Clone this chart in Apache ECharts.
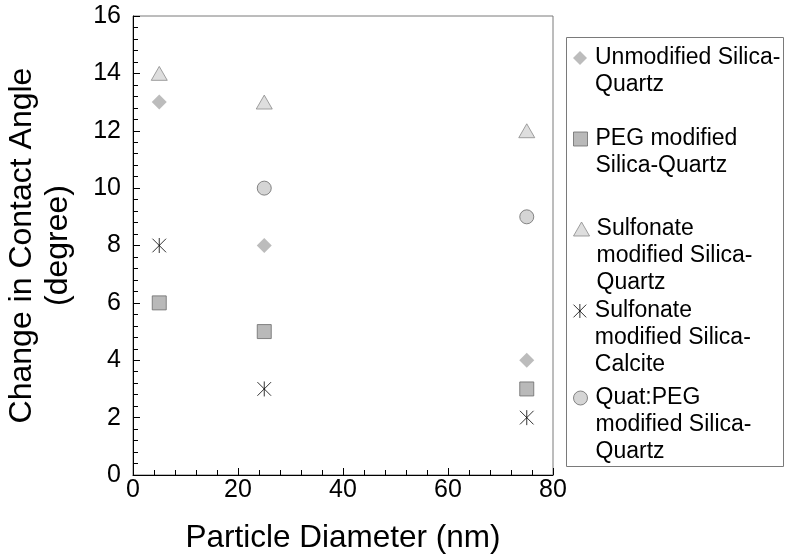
<!DOCTYPE html>
<html><head><meta charset="utf-8">
<script src="https://cdn.jsdelivr.net/npm/echarts@6/dist/echarts.min.js"></script>
<style>html,body{margin:0;padding:0;background:#fff}#c{width:787px;height:554px}</style>
</head><body><div id="c"></div>
<script>
const xTicks = [0, 20, 40, 60, 80];
const yTicks = [0, 2, 4, 6, 8, 10, 12, 14, 16];
const seriesNames = [
  'Unmodified Silica-\nQuartz',
  'PEG modified\nSilica-Quartz',
  'Sulfonate\nmodified Silica-\nQuartz',
  'Sulfonate\nmodified Silica-\nCalcite',
  'Quat:PEG\nmodified Silica-\nQuartz'
];
const unmodifiedQuartz = [[5, 13], [25, 8], [75, 4]];
const pegQuartz = [[5, 6], [25, 5], [75, 3]];
const sulfonateQuartz = [[5, 14], [25, 13], [75, 12]];
const sulfonateCalcite = [[5, 8], [25, 3], [75, 2]];
const quatPegQuartz = [[25, 10], [75, 9]];

const FONT = 'Liberation Sans, Arial, Helvetica, sans-serif';
const sym = {
  diamond: 'path://M5,0 L10,5 L5,10 L0,5 Z',
  square: 'path://M0,0 L10,0 L10,10 L0,10 Z',
  triangle: 'path://M5,0 L10,8.7 L0,8.7 Z',
  star: 'path://M0,0 L10,10 M10,0 L0,10 M5,-0.5 L5,10.5',
  circle: 'path://M0,5 A5,5 0 1,0 10,5 A5,5 0 1,0 0,5 Z'
};
const styles = [
  {symbol: sym.diamond, size: 15, itemStyle: {color: '#ababab', borderColor: '#ababab', borderWidth: 0}},
  {symbol: sym.square, size: 14, itemStyle: {color: '#a8a8a8', borderColor: '#6c6c6c', borderWidth: 1}},
  {symbol: sym.triangle, size: 16, itemStyle: {color: '#d6d6d6', borderColor: '#8a8a8a', borderWidth: 1}},
  {symbol: sym.star, size: 15, itemStyle: {color: '#000', borderColor: '#000', borderWidth: 1}},
  {symbol: sym.circle, size: 14, itemStyle: {color: '#cacaca', borderColor: '#6a6a6a', borderWidth: 1}}
];
const dataSets = [unmodifiedQuartz, pegQuartz, sulfonateQuartz, sulfonateCalcite, quatPegQuartz];
const legendCenters = [58, 139, 229, 311, 398];
const LH = 27;

const series = dataSets.map((d, i) => ({
  type: 'scatter', name: seriesNames[i], data: d,
  symbol: styles[i].symbol, symbolSize: styles[i].size, symbolKeepAspect: true,
  itemStyle: styles[i].itemStyle, emphasis: {disabled: true}
}));

const legends = seriesNames.map((n, i) => {
  const lines = n.split('\n').length;
  return {
    data: [n], orient: 'vertical', left: 573, top: legendCenters[i] - (LH / 2) * (2 * lines - 1),
    padding: 0, itemWidth: 20, itemHeight: 14, selectedMode: false,
    formatter: (name) => '\n'.repeat(lines - 1) + name,
    itemStyle: {borderWidth: styles[i].itemStyle.borderWidth},
    textStyle: {fontFamily: FONT, fontSize: 23, color: '#000', lineHeight: LH}
  };
});

const chart = echarts.init(document.getElementById('c'), null, {renderer: 'canvas'});
chart.setOption({
  animation: false,
  backgroundColor: '#fff',
  grid: {left: 133, right: 234, top: 16, bottom: 79, outerBoundsMode: 'none', containLabel: false,
    show: true, borderColor: '#7a7a7a', borderWidth: 1},
  xAxis: {
    type: 'value', min: xTicks[0], max: xTicks[xTicks.length - 1], interval: 20,
    name: 'Particle Diameter (nm)', nameLocation: 'middle', nameGap: 47,
    nameTextStyle: {fontFamily: FONT, fontSize: 31.5, color: '#000'},
    axisLine: {show: true, lineStyle: {color: '#000', width: 1}},
    axisTick: {show: true, inside: true, length: 7, lineStyle: {color: '#000'}},
    minorTick: {show: true, splitNumber: 5, length: 5, lineStyle: {color: '#000'}},
    axisLabel: {fontFamily: FONT, fontSize: 25, color: '#000', margin: 3},
    splitLine: {show: false}
  },
  yAxis: {
    type: 'value', min: yTicks[0], max: yTicks[yTicks.length - 1], interval: 2,
    name: 'Change in Contact Angle\n(degree)', nameLocation: 'middle', nameGap: 57, nameRotate: 90,
    nameTextStyle: {fontFamily: FONT, fontSize: 32, color: '#000', lineHeight: 36},
    axisLine: {show: true, lineStyle: {color: '#000', width: 1}},
    axisTick: {show: true, inside: true, length: 7, lineStyle: {color: '#000'}},
    minorTick: {show: true, splitNumber: 5, length: 5, lineStyle: {color: '#000'}},
    axisLabel: {fontFamily: FONT, fontSize: 25, color: '#000', margin: 12},
    splitLine: {show: false}
  },
  legend: legends,
  graphic: [{type: 'rect', shape: {x: 566.5, y: 37.5, width: 217, height: 429},
    style: {fill: 'none', stroke: '#7a7a7a', lineWidth: 1}, silent: true, z: -1}],
  series: series
});
</script></body></html>
